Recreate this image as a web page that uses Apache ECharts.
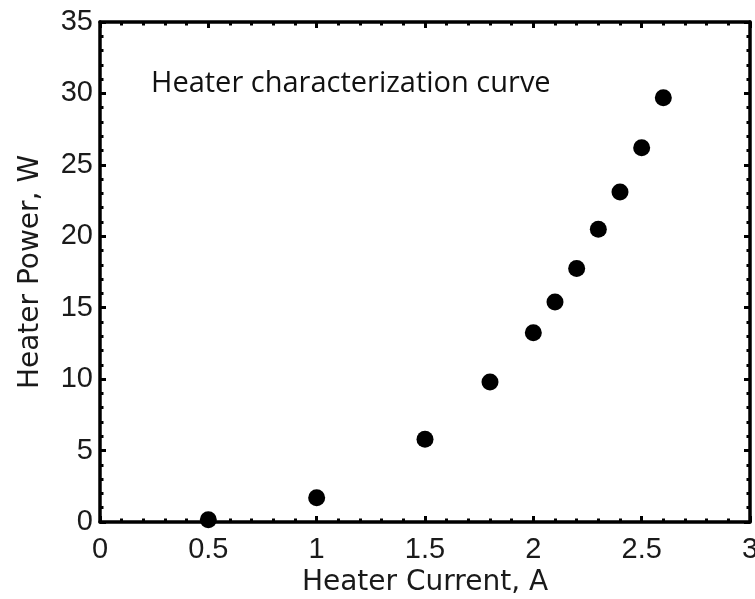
<!DOCTYPE html>
<html>
<head>
<meta charset="utf-8">
<script src="https://cdn.jsdelivr.net/npm/echarts@6/dist/echarts.min.js"></script>
<style>html,body{margin:0;padding:0;background:#fff;overflow:hidden}#c{width:755px;height:599px}</style>
</head>
<body>
<div id="c"></div>
<script>
var currents = [0.5, 1.0, 1.5, 1.8, 2.0, 2.1, 2.2, 2.3, 2.4, 2.5, 2.6];
var powers   = [0.15, 1.7, 5.8, 9.8, 13.25, 15.4, 17.75, 20.5, 23.1, 26.2, 29.7];
var xTicks = [0, 0.5, 1, 1.5, 2, 2.5, 3];
var yTicks = [0, 5, 10, 15, 20, 25, 30, 35];
var titleText = 'Heater characterization curve';
var xName = 'Heater Current, A';
var yName = 'Heater Power, W';

var pts = currents.map(function (c, i) { return [c, powers[i]]; });
var tickFont = 'Liberation Sans';
var nameFont = 'DejaVu Sans';
var lineCol = '#000';
function axisBase(extra) {
  var a = {
    axisLine: { show: true, onZero: false, lineStyle: { color: lineCol, width: 3.5 } },
    axisTick: { show: true, inside: true, length: 6, lineStyle: { color: lineCol, width: 3 } },
    minorTick: { show: true, splitNumber: 5, length: 3.5, lineStyle: { color: lineCol, width: 3 } },
    splitLine: { show: false },
    axisLabel: { show: false }
  };
  for (var k in extra) a[k] = extra[k];
  return a;
}
var chart = echarts.init(document.getElementById('c'), null, { renderer: 'canvas' });
chart.setOption({
  animation: false,
  backgroundColor: '#fff',
  title: {
    text: titleText, left: 146, top: 64,
    textStyle: { fontFamily: 'Open Sans', fontWeight: 'normal', fontSize: 29, color: '#111' }
  },
  grid: { left: 100, top: 22, width: 650, height: 500, containLabel: false, outerBoundsMode: 'none' },
  xAxis: [
    axisBase({
      type: 'value', position: 'bottom', min: 0, max: 3, interval: 0.5,
      name: xName, nameLocation: 'middle', nameGap: 45,
      nameTextStyle: { fontFamily: nameFont, fontSize: 28, color: '#1a1a1a' },
      axisLabel: { show: true, fontFamily: tickFont, fontSize: 29, color: '#1a1a1a', margin: 13,
        formatter: function (v) { return xTicks.indexOf(v) >= 0 ? String(v) : ''; } }
    }),
    axisBase({ type: 'value', position: 'top', min: 0, max: 3, interval: 0.5 })
  ],
  yAxis: [
    axisBase({
      type: 'value', position: 'left', min: 0, max: 35, interval: 5,
      name: yName, nameLocation: 'middle', nameGap: 55,
      nameTextStyle: { fontFamily: nameFont, fontSize: 28, color: '#1a1a1a' },
      axisLabel: { show: true, fontFamily: tickFont, fontSize: 29, color: '#1a1a1a', margin: 7,
        formatter: function (v) { return yTicks.indexOf(v) >= 0 ? String(v) : ''; } }
    }),
    axisBase({ type: 'value', position: 'right', min: 0, max: 35, interval: 5 })
  ],
  series: [{
    type: 'scatter', xAxisIndex: 0, yAxisIndex: 0,
    data: pts, symbol: 'circle', symbolSize: 17,
    itemStyle: { color: '#000', opacity: 1 }
  }]
});
</script>
</body>
</html>
